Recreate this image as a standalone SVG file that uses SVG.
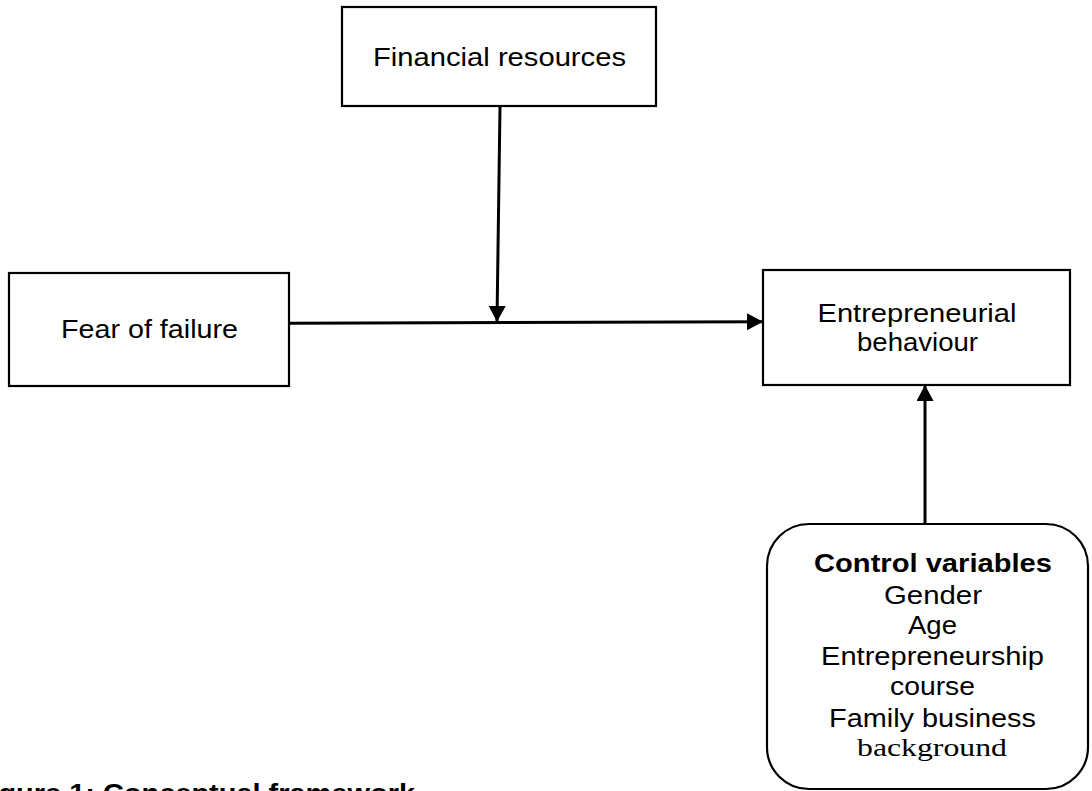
<svg xmlns="http://www.w3.org/2000/svg" width="1092" height="791" viewBox="0 0 1092 791">
<style>
.box{fill:#fff;stroke:#000;stroke-width:2.2}
.t{font-family:"Liberation Sans",Arial,sans-serif;font-size:26px;fill:#000;text-anchor:middle}
.b{font-weight:bold}
.s{font-family:"Liberation Serif","Times New Roman",serif}
.conn{stroke:#000;stroke-width:3;fill:none}
</style>
<defs>
<marker id="arr" markerUnits="userSpaceOnUse" markerWidth="17" markerHeight="17" refX="15" refY="8.5" orient="auto">
<path d="M0,0 L16,8.5 L0,17 z" fill="#000"/>
</marker>
</defs>
<rect width="1092" height="791" fill="#fff"/>
<g id="connectors">
<line class="conn" x1="289" y1="323.3" x2="762" y2="321.7" marker-end="url(#arr)"/>
<line class="conn" x1="500" y1="107" x2="497" y2="321" marker-end="url(#arr)"/>
<line class="conn" x1="925" y1="523" x2="925" y2="386" marker-end="url(#arr)"/>
</g>
<g id="financial">
<rect class="box" x="342" y="7" width="314" height="99"/>
<text class="t" x="499.5" y="66" textLength="253" lengthAdjust="spacingAndGlyphs">Financial resources</text>
</g>
<g id="fear">
<rect class="box" x="9" y="273" width="280" height="113"/>
<text class="t" x="149.5" y="338" textLength="177" lengthAdjust="spacingAndGlyphs">Fear of failure</text>
</g>
<g id="behaviour">
<rect class="box" x="763" y="270" width="307" height="115"/>
<text class="t" x="917" y="322" textLength="199" lengthAdjust="spacingAndGlyphs">Entrepreneurial</text>
<text class="t" x="917.5" y="351" textLength="121" lengthAdjust="spacingAndGlyphs">behaviour</text>
</g>
<g id="control">
<rect class="box" x="767" y="524" width="321" height="265" rx="42" ry="42"/>
<text class="t b" x="933" y="572" textLength="238" lengthAdjust="spacingAndGlyphs">Control variables</text>
<text class="t" x="933" y="604" textLength="98" lengthAdjust="spacingAndGlyphs">Gender</text>
<text class="t" x="932.5" y="634" textLength="49" lengthAdjust="spacingAndGlyphs">Age</text>
<text class="t" x="932.5" y="665" textLength="223" lengthAdjust="spacingAndGlyphs">Entrepreneurship</text>
<text class="t" x="932.5" y="695" textLength="85" lengthAdjust="spacingAndGlyphs">course</text>
<text class="t" x="932.5" y="727" textLength="207" lengthAdjust="spacingAndGlyphs">Family business</text>
<text class="t s" x="932" y="756" font-size="29" textLength="150" lengthAdjust="spacingAndGlyphs">background</text>
</g>
<g id="caption">
<text class="t b" style="text-anchor:start" x="-1.6" y="801.6" textLength="416.6" lengthAdjust="spacingAndGlyphs">gure 1: Conceptual framework</text>
</g>
</svg>
